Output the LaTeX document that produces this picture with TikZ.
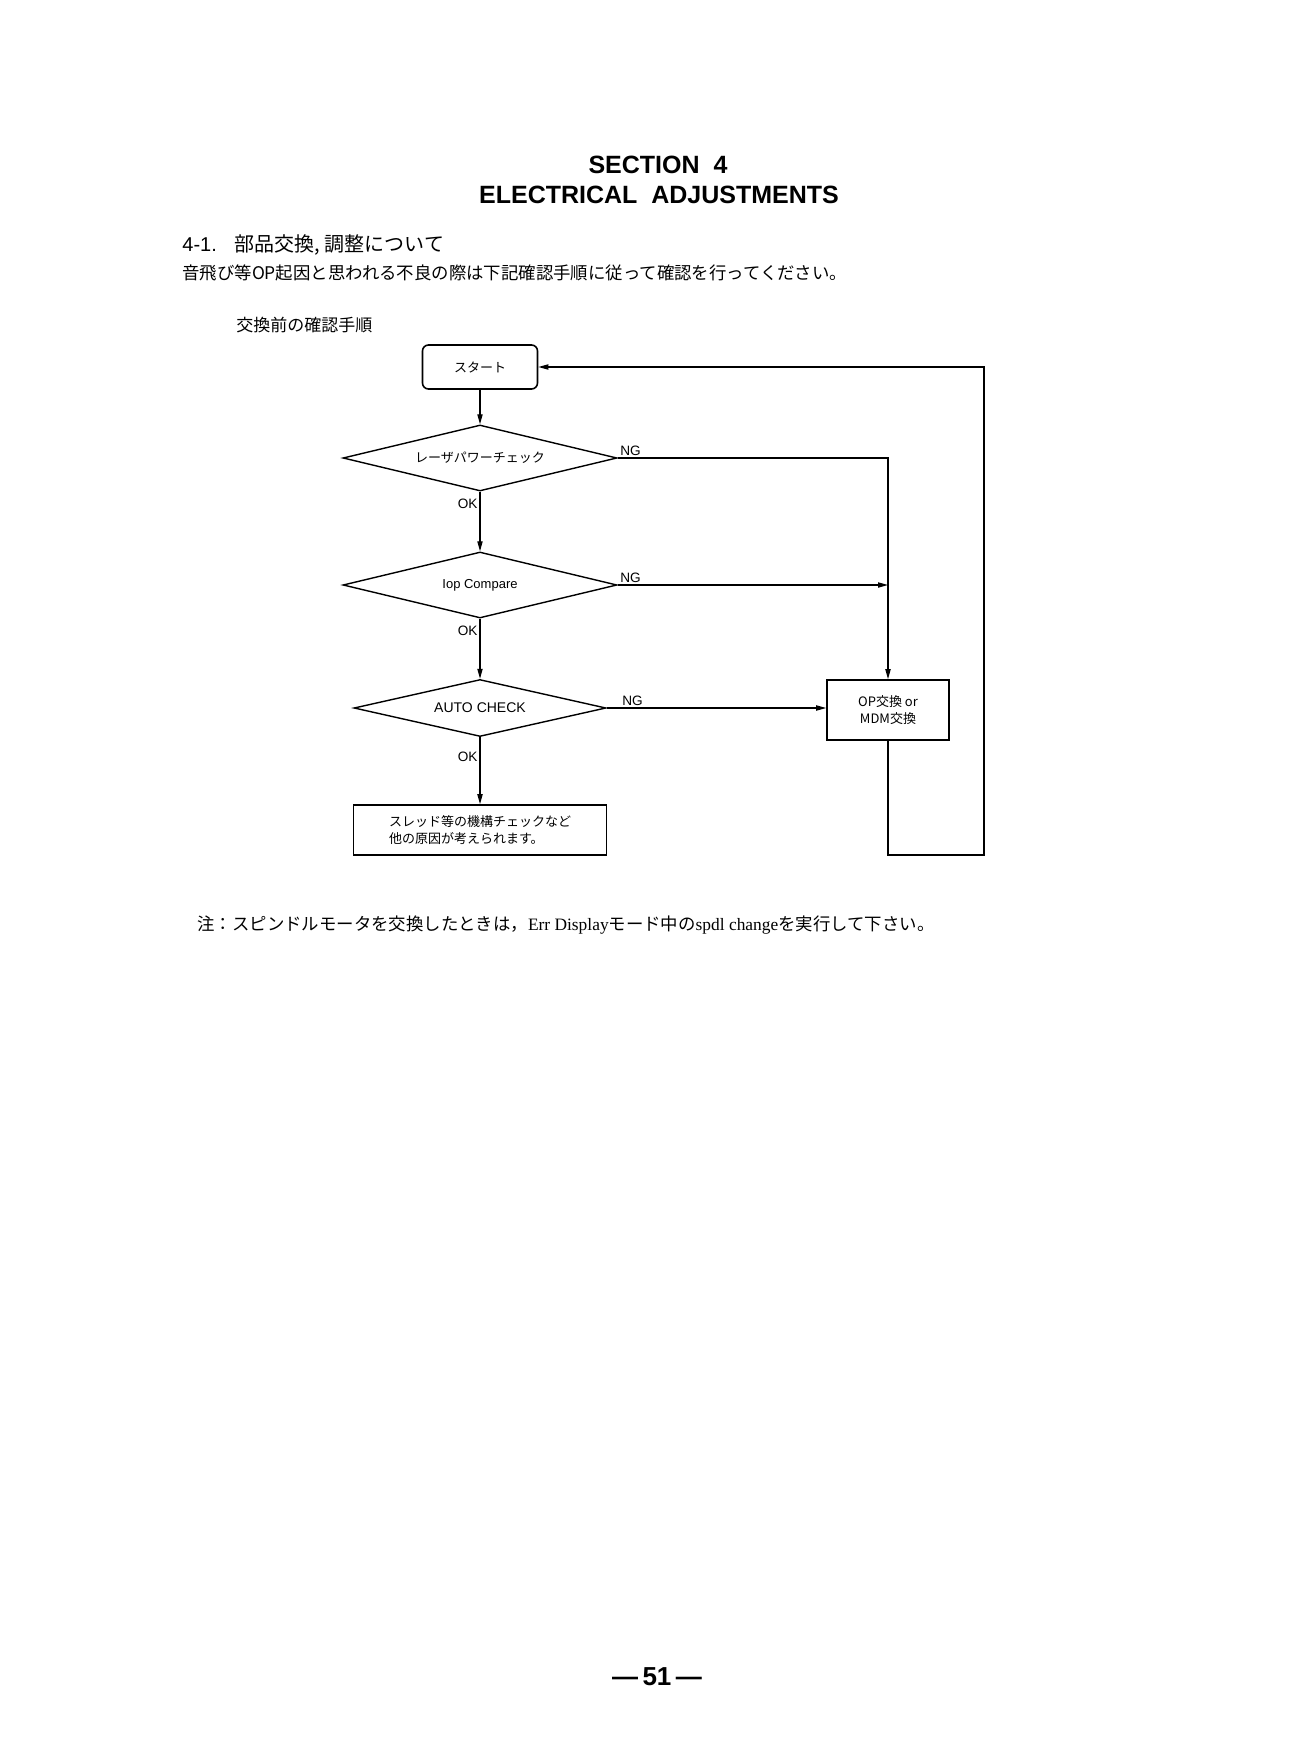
\documentclass[tikz,border=0pt]{standalone}
\usepackage{fontspec}
\setmainfont{Liberation Serif}
\setsansfont{Liberation Sans}
\newfontfamily\jp{Noto Sans CJK JP}
\usetikzlibrary{shapes.geometric,arrows.meta}
\tikzset{
  flow/.style={line width=0.6pt,-{Triangle[length=5pt,width=2.6pt]}},
  chk/.style={draw,diamond,aspect=5,line width=0.7pt,inner sep=0pt,minimum width=137pt,minimum height=33pt,font=\jp\fontsize{6.5}{8}\selectfont},
  box/.style={draw,rectangle,line width=0.8pt,inner sep=2pt,font=\jp\fontsize{6.5}{8.2}\selectfont},
  lbl/.style={inner sep=1pt,font=\sffamily\fontsize{6.8}{8}\selectfont}
}
\begin{document}
\begin{tikzpicture}[x=0.5pt,y=-0.5pt]
\fill[white](0,0)rectangle(1290,1759);
\useasboundingbox(0,0)rectangle(1290,1759);
% page head
\node[font=\sffamily\bfseries\fontsize{12.5}{15}\selectfont](sec)at(658,165){SECTION\ \ 4};
\node[font=\sffamily\bfseries\fontsize{12.5}{15}\selectfont](title)at(659,195){ELECTRICAL\ \ ADJUSTMENTS};
\node[anchor=west,inner sep=0pt,font=\jp\fontsize{10}{12}\selectfont](head)at(182,245){{\sffamily 4-1.}\hspace{9pt}部品交換, 調整について};
\node[anchor=west,inner sep=0pt,font=\jp\fontsize{8.7}{10}\selectfont](intro)at(182,273){音飛び等OP起因と思われる不良の際は下記確認手順に従って確認を行ってください。};
\node[anchor=west,inner sep=0pt,font=\jp\fontsize{8.5}{10}\selectfont](proc)at(236,325){交換前の確認手順};
% flow
\node[box,rounded corners=3pt,minimum width=57.5pt,minimum height=22pt](start)at(480,367){スタート};
\node[chk](chk1)at(480,458){レーザパワーチェック};
\node[chk](chk2)at(480,585){\sffamily Iop Compare};
\node[chk,minimum width=126pt,minimum height=28.5pt,font=\sffamily\fontsize{7}{8}\selectfont](chk3)at(480,708){AUTO CHECK};
\node[box,align=center,minimum width=61pt,minimum height=30pt](opbox)at(888,710){OP交換 or\\MDM交換};
\node[box,align=left,minimum width=126.5pt,minimum height=25pt](other)at(480,830){スレッド等の機構チェックなど\\他の原因が考えられます。};
\coordinate(loop)at(984,855);
\draw[flow](start)--(chk1);
\draw[flow](chk1)--node[lbl,pos=0.2,left]{OK}(chk2);
\draw[flow](chk2)--node[lbl,pos=0.2,left]{OK}(chk3);
\draw[flow](chk3)--node[lbl,pos=0.3,left]{OK}(other);
\draw[flow](chk1.east)node[lbl,anchor=south west]{NG}-|(opbox.north);
\draw[flow](chk2.east)node[lbl,anchor=south west]{NG}--(chk2.east-|opbox.north);
\draw[flow](chk3.east)node[lbl,anchor=south west,xshift=6.5pt]{NG}--(chk3.east-|opbox.west);
\draw[flow](opbox.south)|-(loop)|-(start.east);
% note and page number
\node[anchor=west,inner sep=0pt,font=\fontsize{8.7}{10}\selectfont](note)at(197,925){{\jp 注：スピンドルモータを交換したときは，}Err Display{\jp モード中の}spdl change{\jp を実行して下さい。}};
\node[font=\sffamily\bfseries\fontsize{13}{15}\selectfont](page)at(657,1677){\textemdash\,51\,\textemdash};
\end{tikzpicture}
\end{document}
